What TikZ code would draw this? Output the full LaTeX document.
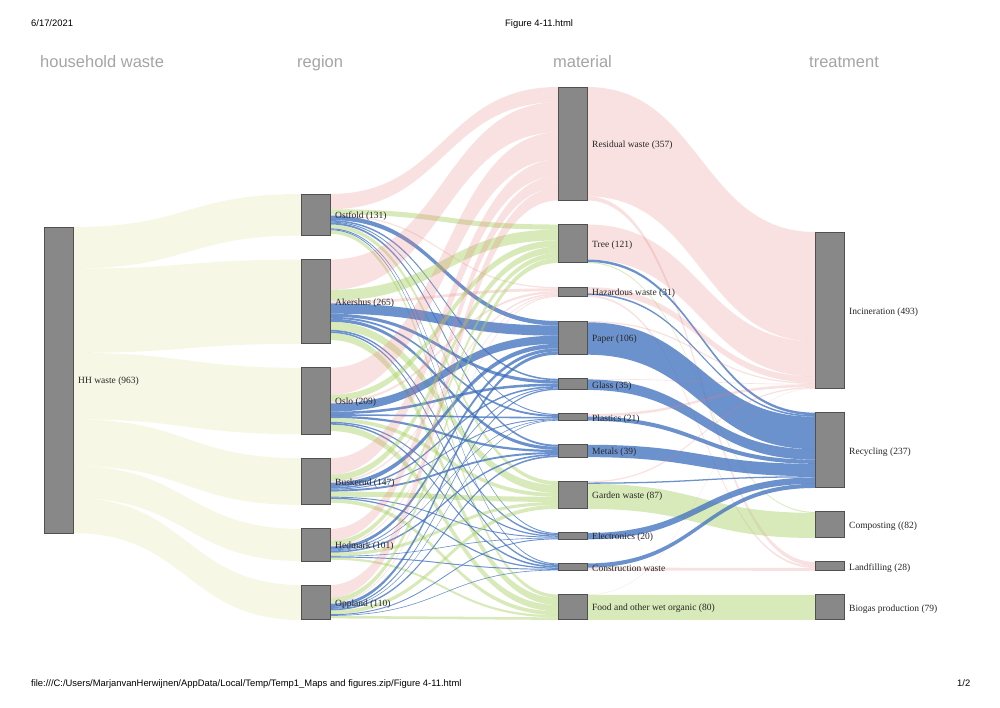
\documentclass[tikz,border=0pt]{standalone}
\usepackage{fontspec}
\setmainfont{Liberation Serif}
\newfontfamily\hdrfont{Liberation Sans}
\usetikzlibrary{calc}
\pgfdeclarelayer{bg}
\pgfsetlayers{bg,main}
\definecolor{nodegray}{RGB}{136,136,136}
\definecolor{nodeedge}{RGB}{80,80,80}
\definecolor{pinkc}{RGB}{230,120,120}
\definecolor{bluec}{RGB}{60,110,190}
\definecolor{greenc}{RGB}{170,210,100}
\definecolor{beigec}{RGB}{230,230,170}
\definecolor{titlegray}{RGB}{165,165,165}
\tikzset{
 box/.style={draw=nodeedge, fill=nodegray, line width=1pt, minimum width=29pt, inner sep=0pt, outer sep=0pt, rectangle},
 lbl/.style={anchor=west, inner sep=0pt, font=\fontsize{9.5}{10}\selectfont, text=black!85, xshift=5pt, yshift=-1.5pt},
 coltitle/.style={anchor=base west, inner sep=0pt, font=\hdrfont\fontsize{16.5}{18}\selectfont, text=titlegray},
 pagetext/.style={anchor=base west, inner sep=0pt, font=\hdrfont\fontsize{9.4}{10}\selectfont, text=black},
 pinkf/.style={fill=pinkc, fill opacity=0.22},
 bluef/.style={fill=bluec, fill opacity=0.75},
 greenf/.style={fill=greenc, fill opacity=0.45},
 beigef/.style={fill=beigec, fill opacity=0.3},
}
\def\kk{0.31776}
\newcommand\snode[5]{%
 \pgfmathsetmacro\hh{#4*\kk}%
 \node[box, minimum height=\hh pt] (#1) at ({#2+14.5},{#3+\hh/2}) {};
 \node[lbl] (#1-lbl) at (#1.east) {#5};
 \expandafter\xdef\csname so@#1\endcsname{0}%
 \expandafter\xdef\csname si@#1\endcsname{0}%
}
\newcommand\flow[4]{%
 \pgfmathsetmacro\ww{#3*\kk}%
 \edef\oo{\csname so@#1\endcsname}%
 \edef\ii{\csname si@#2\endcsname}%
 \fill[#4] let \p1=(#1.north east), \p2=(#2.north west), \n1={(\x1+\x2)/2} in
   (\x1,{\y1-\oo pt}) .. controls (\n1,{\y1-\oo pt}) and (\n1,{\y2-\ii pt}) .. (\x2,{\y2-\ii pt})
   -- (\x2,{\y2-\ii pt-\ww pt}) .. controls (\n1,{\y2-\ii pt-\ww pt}) and (\n1,{\y1-\oo pt-\ww pt}) .. (\x1,{\y1-\oo pt-\ww pt}) -- cycle;
 \pgfmathsetmacro\tmpa{\oo+\ww}\expandafter\xdef\csname so@#1\endcsname{\tmpa}%
 \pgfmathsetmacro\tmpb{\ii+\ww}\expandafter\xdef\csname si@#2\endcsname{\tmpb}%
}
\newcommand\flowsfrom[2]{%
 \foreach \m/\v/\c in {#2} {\edef\tmpcall{\noexpand\flow{#1}{\m}{\v}{\c}}\tmpcall}%
}
\begin{document}
\begin{tikzpicture}[x=1pt,y=-1pt]
\useasboundingbox (0,0) rectangle (1000,707);
\begin{pgfonlayer}{bg}
\fill[white] (0,0) rectangle (1000,707);
\end{pgfonlayer}
% page header / footer
\node[pagetext] (date) at (31,26) {6/17/2021};
\node[pagetext] (fname) at (505,26) {Figure 4-11.html};
\node[pagetext] (path) at (31,686) {file:///C:/Users/MarjanvanHerwijnen/AppData/Local/Temp/Temp1\_Maps and figures.zip/Figure 4-11.html};
\node[pagetext] (pageno) at (957,686) {1/2};
% column titles
\node[coltitle] (t1) at (40,67.5) {household waste};
\node[coltitle] (t2) at (297,67.5) {region};
\node[coltitle] (t3) at (553,67.5) {material};
\node[coltitle] (t4) at (809,67.5) {treatment};
% nodes
\snode{hh}{44}{227}{963}{HH waste (963)}
\snode{ost}{301}{194}{131}{Ostfold (131)}
\snode{ake}{301}{259.6}{265}{Akershus (265)}
\snode{osl}{301}{367.8}{209}{Oslo (209)}
\snode{bus}{301}{458.2}{147}{Buskerud (147)}
\snode{hed}{301}{528.9}{101}{Hedmark (101)}
\snode{opp}{301}{585.0}{110}{Oppland (110)}
\snode{res}{558}{87}{357}{Residual waste (357)}
\snode{tree}{558}{224.53}{121}{Tree (121)}
\snode{haz}{558}{287.07}{31}{Hazardous waste (31)}
\snode{pap}{558}{321.01}{106}{Paper (106)}
\snode{gla}{558}{378.78}{35}{Glass (35)}
\snode{pla}{558}{413.99}{21}{Plastics (21)}
\snode{met}{558}{444.75}{39}{Metals (39)}
\snode{gar}{558}{481.23}{87}{Garden waste (87)}
\snode{ele}{558}{532.97}{20}{Electronics (20)}
\snode{con}{558}{563.42}{22}{Construction waste}
\snode{foo}{558}{594.5}{80}{Food and other wet organic (80)}
\snode{inc}{815}{232}{493}{Incineration (493)}
\snode{rec}{815}{412.64}{237}{Recycling (237)}
\snode{com}{815}{511.93}{82}{Composting ((82)}
\snode{lan}{815}{561.97}{28}{Landfilling (28)}
\snode{bio}{815}{594.85}{79}{Biogas production (79)}
% flows
\begin{pgfonlayer}{bg}
\flowsfrom{hh}{ost/131/beigef,ake/265/beigef,osl/209/beigef,bus/147/beigef,hed/101/beigef,opp/110/beigef}
\flowsfrom{ost}{res/48/pinkf,tree/16/greenf,haz/4/pinkf,pap/14/bluef,gla/5/bluef,pla/3/bluef,met/6/bluef,gar/12/greenf,ele/3/bluef,con/3/bluef,foo/11/greenf}
\flowsfrom{ake}{res/95/pinkf,tree/34/greenf,haz/9/pinkf,pap/32/bluef,gla/10/bluef,pla/6/bluef,met/10/bluef,gar/25/greenf,ele/5/bluef,con/5/bluef,foo/22/greenf}
\flowsfrom{osl}{res/85/pinkf,tree/20/greenf,haz/7/pinkf,pap/26/bluef,gla/8/bluef,pla/5/bluef,met/7/bluef,gar/12/greenf,ele/4/bluef,con/5/bluef,foo/20/greenf}
\flowsfrom{bus}{res/52/pinkf,tree/20/greenf,haz/5/pinkf,pap/14/bluef,gla/5/bluef,pla/3/bluef,met/6/bluef,gar/16/greenf,ele/3/bluef,con/4/bluef,foo/12/greenf}
\flowsfrom{hed}{res/37/pinkf,tree/15/greenf,haz/3/pinkf,pap/10/bluef,gla/3/bluef,pla/2/bluef,met/5/bluef,gar/10/greenf,ele/2/bluef,con/3/bluef,foo/7/greenf}
\flowsfrom{opp}{res/40/pinkf,tree/16/greenf,haz/3/pinkf,pap/10/bluef,gla/4/bluef,pla/2/bluef,met/5/bluef,gar/12/greenf,ele/3/bluef,con/2/bluef,foo/8/greenf}
\flowsfrom{res}{inc/344/pinkf,lan/13/pinkf}
\flowsfrom{tree}{inc/110/pinkf,rec/8/bluef,com/3/greenf}
\flowsfrom{haz}{inc/20/pinkf,rec/5/bluef,lan/6/pinkf}
\flowsfrom{pap}{inc/4/pinkf,rec/102/bluef}
\flowsfrom{gla}{inc/2/pinkf,rec/33/bluef}
\flowsfrom{pla}{inc/8/pinkf,rec/13/bluef}
\flowsfrom{met}{rec/39/bluef}
\flowsfrom{gar}{inc/4/pinkf,rec/4/bluef,com/79/greenf}
\flowsfrom{ele}{rec/20/bluef}
\flowsfrom{con}{rec/13/bluef,lan/9/pinkf}
\flowsfrom{foo}{inc/1/pinkf,bio/79/greenf}
\end{pgfonlayer}
\end{tikzpicture}
\end{document}
